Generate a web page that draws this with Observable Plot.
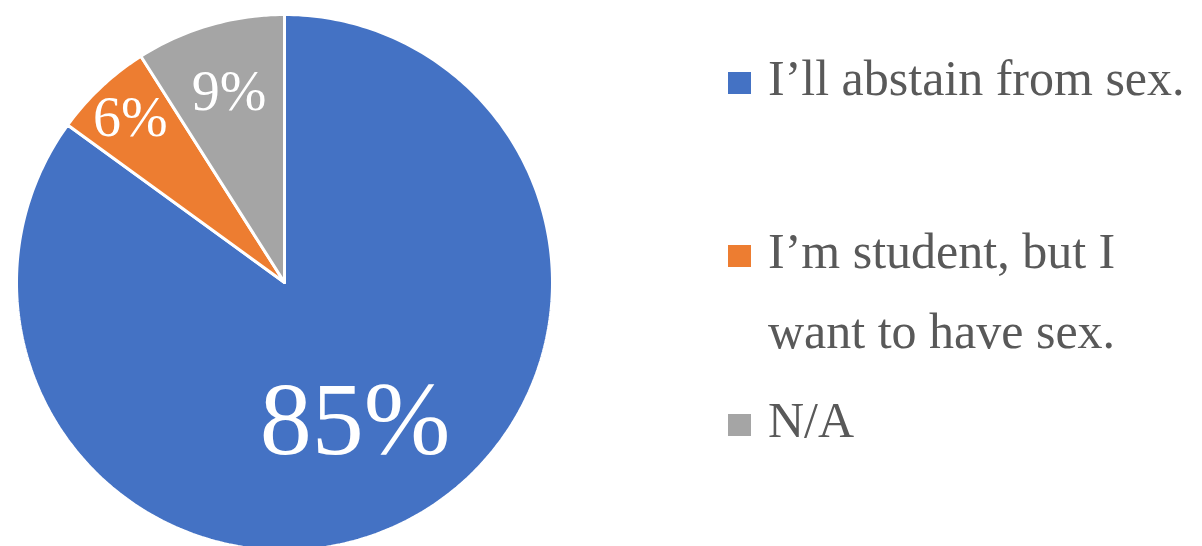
<!DOCTYPE html>
<html>
<head>
<meta charset="utf-8">
<script src="https://cdn.jsdelivr.net/npm/d3@7"></script>
<script src="https://cdn.jsdelivr.net/npm/@observablehq/plot@0.6"></script>
<style>
  html, body { margin: 0; padding: 0; background: #fff; }
  #wrap { position: relative; width: 1202px; height: 546px; overflow: hidden; }
  #chart { position: absolute; left: 0; top: 0; }
  .leg { position: absolute; left: 768px; font-family: "Liberation Serif", serif; font-size: 50px;
         line-height: 80px; color: #595959; white-space: nowrap; }
  .sw { position: absolute; left: 728px; width: 23px; height: 22px; }
</style>
</head>
<body>
<div id="wrap"><div id="chart"></div></div>
<script>
// ---- data ----
const categories = ["I’ll abstain from sex.", "I’m student, but I want to have sex.", "N/A"];
const legendLines = [["I’ll abstain from sex."], ["I’m student, but I", "want to have sex."], ["N/A"]];
const values = [85, 6, 9];
const labels = ["85%", "6%", "9%"];
const colors = ["#4472C4", "#ED7D31", "#A5A5A5"];

// ---- geometry (layout constants) ----
const W = 600, H = 546;
const cx = 284, cy = 282, R = 268;
const labelRadius = [0.58, 0.84, 0.74];
const labelSize = [104, 56, 56];

const total = d3.sum(values);
const slices = [];
let acc = 0;
values.forEach((v, i) => {
  const a0 = acc / total * 2 * Math.PI;
  acc += v;
  const a1 = acc / total * 2 * Math.PI;
  slices.push({key: categories[i], label: labels[i], a0, a1, i});
});

// polygon points for each slice (unit coordinates, y downward)
const pts = [];
for (const s of slices) {
  pts.push({key: s.key, x: 0, y: 0});
  const n = Math.max(2, Math.ceil((s.a1 - s.a0) / (2 * Math.PI) * 360));
  for (let k = 0; k <= n; k++) {
    const a = s.a0 + (s.a1 - s.a0) * k / n;
    pts.push({key: s.key, x: Math.sin(a), y: -Math.cos(a)});
  }
  pts.push({key: s.key, x: 0, y: 0});
}

const labelData = slices.map(s => {
  const m = (s.a0 + s.a1) / 2, r = labelRadius[s.i];
  return {...s, x: r * Math.sin(m), y: -r * Math.cos(m), size: labelSize[s.i]};
});

const chart = Plot.plot({
  width: W, height: H,
  margin: 0,
  x: {domain: [-cx / R, (W - cx) / R], range: [0, W], axis: null},
  y: {domain: [-cy / R, (H - cy) / R], range: [0, H], axis: null},
  color: {domain: categories, range: colors},
  style: {background: "transparent"},
  marks: [
    Plot.line(pts, {x: "x", y: "y", z: "key", fill: "key", stroke: "white", strokeWidth: 3, strokeLinejoin: "miter"}),
    Plot.text(labelData, {x: "x", y: "y", text: "label", fill: "white", fontSize: "size",
      fontFamily: "Liberation Serif, serif"})
  ]
});
document.getElementById("chart").appendChild(chart);

// ---- legend ----
const wrap = document.getElementById("wrap");
const legTops = [38, 211, 380];
const swTops = [72, 245, 414];
categories.forEach((c, i) => {
  const sw = document.createElement("div");
  sw.className = "sw";
  sw.style.top = swTops[i] + "px";
  sw.style.background = colors[i];
  wrap.appendChild(sw);
  const t = document.createElement("div");
  t.className = "leg";
  t.style.top = legTops[i] + "px";
  t.innerHTML = legendLines[i].join("<br>");
  wrap.appendChild(t);
});
</script>
</body>
</html>
